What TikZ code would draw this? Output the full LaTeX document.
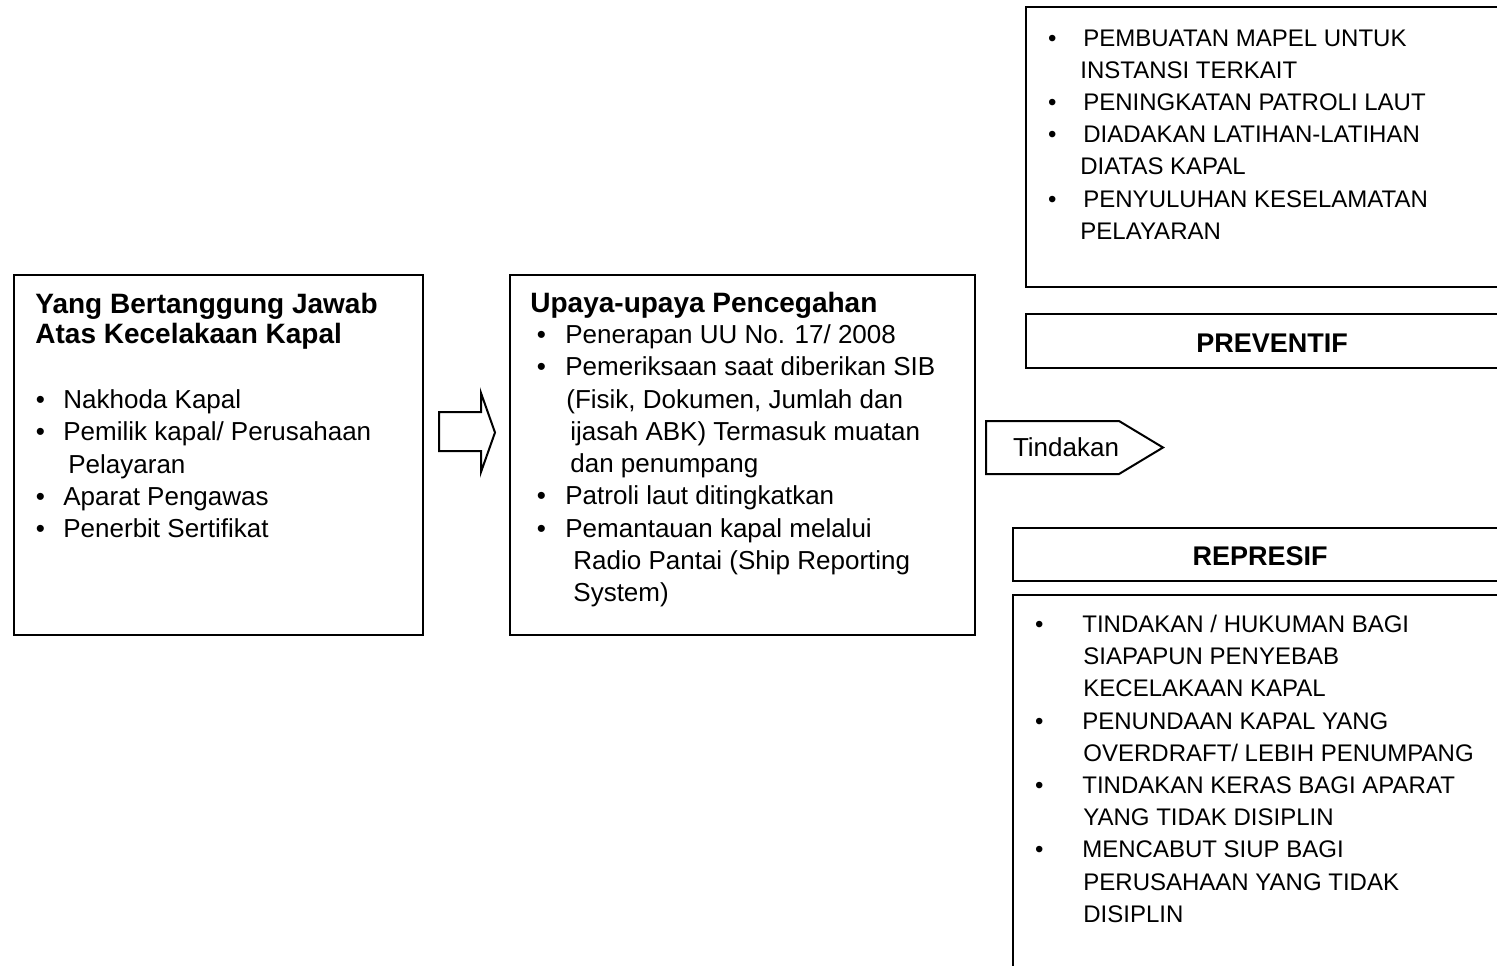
\documentclass[tikz,border=0pt]{standalone}
\usepackage{fontspec}
\setmainfont{Liberation Sans}
\usetikzlibrary{fit}

\newcommand{\bul}[1]{\makebox[#1][l]{\textbullet}}
\newcommand{\ind}[1]{\hspace*{#1}}

\begin{document}
\begin{tikzpicture}[x=0.5pt,y=-0.5pt,
  frame/.style={draw,line width=1pt,inner sep=0pt},
  head/.style={inner sep=0pt,anchor=north west,align=left,font=\fontsize{14}{15}\selectfont\bfseries},
  list/.style={inner sep=0pt,anchor=north west,align=left,font=\fontsize{13}{16.15}\selectfont},
  caps/.style={inner sep=0pt,anchor=north west,align=left,font=\fontsize{12}{16.1}\selectfont},
  tag/.style={inner sep=0pt,font=\fontsize{13.5}{16}\selectfont\bfseries},
  shape line/.style={line width=1pt,line join=miter}
]
\useasboundingbox (0,0) rectangle (1497,965);
\fill[white] (0,0) rectangle (1497,965);
\clip (0,0) rectangle (1497,965);

% left box
\node[frame,fit={(14,275) (423,635)}] (resp) {};
\node[head] (resptitle) at (35,292) {\strut Yang Bertanggung Jawab\\Atas Kecelakaan Kapal};
\node[list] (resplist) at (35.5,385.4) {\strut\bul{13.75pt}Nakhoda Kapal\\
  \bul{13.75pt}Pemilik kapal/ Perusahaan\\
  \ind{16.25pt}Pelayaran\\
  \bul{13.75pt}Aparat Pengawas\\
  \bul{13.75pt}Penerbit Sertifikat};

% middle box
\node[frame,fit={(510,275) (975,635)}] (cegah) {};
\node[head] (cegahtitle) at (530,291) {\strut Upaya-upaya Pencegahan};
\node[list] (cegahlist) at (536.5,320.4) {\strut\bul{14.25pt}Penerapan UU No. 17/ 2008\\
  \bul{14.25pt}Pemeriksaan saat diberikan SIB\\
  \ind{14.75pt}(Fisik, Dokumen, Jumlah dan\\
  \ind{16.75pt}ijasah ABK) Termasuk muatan\\
  \ind{16.75pt}dan penumpang\\
  \bul{14.25pt}Patroli laut ditingkatkan\\
  \bul{14.25pt}Pemantauan kapal melalui\\
  \ind{18.25pt}Radio Pantai (Ship Reporting\\
  \ind{18.25pt}System)};

% block arrow between the two boxes
\draw[shape line] (439,412) -- (481,412) -- (481,393) -- (495,432.5)
  -- (481,472) -- (481,451) -- (439,451) -- cycle;

% tindakan pointer
\node[font=\fontsize{13}{16}\selectfont] (tind) at (1066,447.5) {Tindakan};
\draw[shape line] (986,421) -- (1119,421) -- (1163,447.5) -- (1119,474) -- (986,474) -- cycle;

% right column, top
\node[frame,fit={(1026,7) (1518,287)}] (prevbox) {};
\node[caps] (prevlist) at (1047.8,23.1) {\strut\bul{17.6pt}PEMBUATAN MAPEL UNTUK\\
  \ind{16.1pt}INSTANSI TERKAIT\\
  \bul{17.6pt}PENINGKATAN PATROLI LAUT\\
  \bul{17.6pt}DIADAKAN LATIHAN-LATIHAN\\
  \ind{16.1pt}DIATAS KAPAL\\
  \bul{17.6pt}PENYULUHAN KESELAMATAN\\
  \ind{16.1pt}PELAYARAN};
\node[frame,fit={(1026,314) (1518,368)}] (prev) {};
\node[tag] (prevtag) at (1272,343) {PREVENTIF};

% right column, bottom
\node[frame,fit={(1013,528) (1507,581)}] (repr) {};
\node[tag] (reprtag) at (1260,556) {REPRESIF};
\node[frame,fit={(1013,595) (1507,1000)}] (reprbox) {};
\node[caps] (reprlist) at (1034.8,609.6) {\strut\bul{23.6pt}TINDAKAN / HUKUMAN BAGI\\
  \ind{24.1pt}SIAPAPUN PENYEBAB\\
  \ind{24.1pt}KECELAKAAN KAPAL\\
  \bul{23.6pt}PENUNDAAN KAPAL YANG\\
  \ind{24.1pt}OVERDRAFT/ LEBIH PENUMPANG\\
  \bul{23.6pt}TINDAKAN KERAS BAGI APARAT\\
  \ind{24.1pt}YANG TIDAK DISIPLIN\\
  \bul{23.6pt}MENCABUT SIUP BAGI\\
  \ind{24.1pt}PERUSAHAAN YANG TIDAK\\
  \ind{24.1pt}DISIPLIN};
\end{tikzpicture}
\end{document}
